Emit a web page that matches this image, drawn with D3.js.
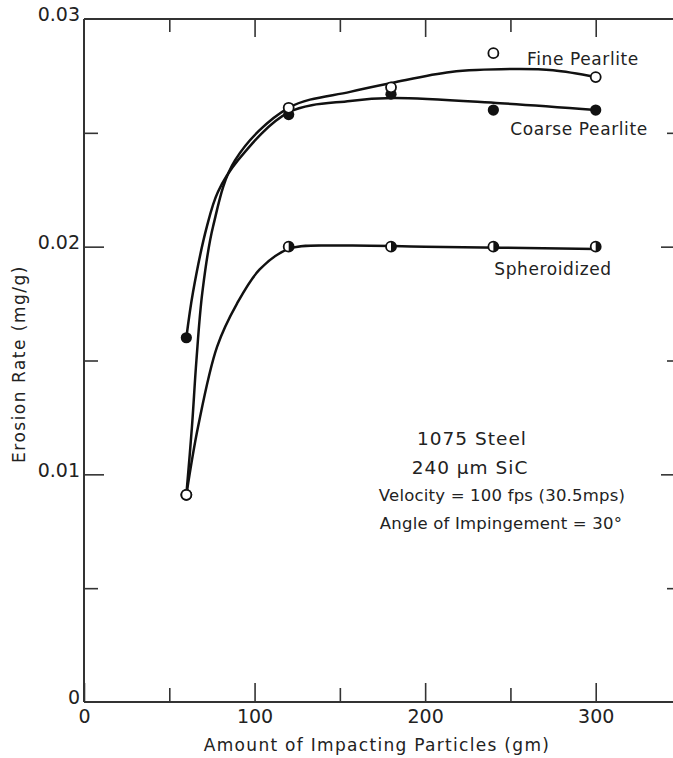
<!DOCTYPE html>
<html><head><meta charset="utf-8">
<script src="https://cdn.jsdelivr.net/npm/d3@7"></script>
<style>
body{margin:0;background:#fff;}
text{font-family:"DejaVu Sans",sans-serif;fill:#222;}
</style></head>
<body><svg id="c" width="673" height="758"></svg>
<script>
// ---- data ----
const xMajorTicks = [0, 100, 200, 300];
const xMinorTicks = [50, 150, 250];
const yMajorTicks = [0, 0.01, 0.02, 0.03];
const yMinorTicks = [0.005, 0.015, 0.025];
const yTickLabels = ["0", "0.01", "0.02", "0.03"];

const finePoints = [[60, 0.0091], [120, 0.0261], [180, 0.0270], [240, 0.0285], [300, 0.02745]];
const coarsePoints = [[60, 0.0160], [120, 0.0258], [180, 0.0267], [240, 0.0260], [300, 0.0260]];
const sphPoints = [[60, 0.0091], [120, 0.0200], [180, 0.0200], [240, 0.0200], [300, 0.0200]];

const fineCurve = [[60, 0.0091], [63.3, 0.0121], [65.9, 0.0150], [69.4, 0.0180], [75.7, 0.0209], [88.6, 0.0238], [120, 0.0261], [156, 0.0268], [181, 0.0272], [215, 0.02767], [250, 0.0278], [275, 0.02775], [300, 0.02745]];
const coarseCurve = [[60, 0.0160], [63.9, 0.0180], [72.1, 0.0209], [78.5, 0.0224], [90.3, 0.0238], [120, 0.0259], [156, 0.0264], [181, 0.02653], [244, 0.0263], [300, 0.0260]];
const sphCurve = [[60, 0.0091], [66.9, 0.0121], [78, 0.0156], [89.7, 0.0175], [103, 0.0190], [120, 0.0199], [150, 0.02005], [200, 0.0200], [300, 0.0199]];

const seriesLabels = ["Fine Pearlite", "Coarse Pearlite", "Spheroidized"];
const notes = ["1075 Steel", "240 \u03bcm SiC", "Velocity = 100 fps (30.5mps)", "Angle of Impingement = 30\u00b0"];
const xTitle = "Amount of Impacting Particles (gm)";
const yTitle = "Erosion Rate (mg/g)";

// ---- layout ----
const svg = d3.select("#c");
const x = d3.scaleLinear().domain([0, 350]).range([84, 681]);
const y = d3.scaleLinear().domain([0, 0.03]).range([702, 19]);
const axisColor = "#333";

const frame = svg.append("g").attr("stroke", axisColor).attr("stroke-width", 2).attr("fill", "none");
frame.append("line").attr("x1", x(0)).attr("x2", x(350)).attr("y1", y(0)).attr("y2", y(0));
frame.append("line").attr("x1", x(0)).attr("x2", x(350)).attr("y1", y(0.03)).attr("y2", y(0.03));
frame.append("line").attr("x1", x(0)).attr("x2", x(0)).attr("y1", y(0)).attr("y2", y(0.03));
frame.append("line").attr("x1", x(350)).attr("x2", x(350)).attr("y1", y(0)).attr("y2", y(0.03));

function styleAxis(g) {
  g.select(".domain").remove();
  g.selectAll(".tick line").attr("stroke", axisColor).attr("stroke-width", 1.6);
  g.selectAll(".tick text").style("font-family", "'DejaVu Sans',sans-serif").attr("fill", "#222");
}

// bottom axis (inward ticks)
svg.append("g").attr("transform", `translate(0,${y(0)})`)
  .call(d3.axisBottom(x).tickValues(xMajorTicks).tickSizeInner(-19).tickSizeOuter(0).tickPadding(8).tickFormat(d3.format("d")))
  .call(styleAxis)
  .call(g => g.selectAll(".tick text").attr("font-size", 19));
svg.append("g").attr("transform", `translate(0,${y(0)})`)
  .call(d3.axisBottom(x).tickValues(xMinorTicks).tickSizeInner(-14).tickSizeOuter(0).tickFormat(""))
  .call(styleAxis);
// top axis
svg.append("g").attr("transform", `translate(0,${y(0.03)})`)
  .call(d3.axisTop(x).tickValues(xMajorTicks.slice(1)).tickSizeInner(-18).tickSizeOuter(0).tickFormat(""))
  .call(styleAxis);
svg.append("g").attr("transform", `translate(0,${y(0.03)})`)
  .call(d3.axisTop(x).tickValues(xMinorTicks).tickSizeInner(-13).tickSizeOuter(0).tickFormat(""))
  .call(styleAxis);
// left axis
svg.append("g").attr("transform", `translate(${x(0)},0)`)
  .call(d3.axisLeft(y).tickValues(yMajorTicks.slice(1, 3)).tickSizeInner(-20).tickSizeOuter(0).tickFormat(""))
  .call(styleAxis);
svg.append("g").attr("transform", `translate(${x(0)},0)`)
  .call(d3.axisLeft(y).tickValues(yMinorTicks).tickSizeInner(-14).tickSizeOuter(0).tickFormat(""))
  .call(styleAxis);
svg.append("g").attr("transform", `translate(${x(0)},0)`)
  .call(d3.axisLeft(y).tickValues(yMajorTicks).tickSize(0).tickPadding(4).tickFormat((d, i) => yTickLabels[i]))
  .call(styleAxis)
  .call(g => g.selectAll(".tick text").attr("font-size", 19).attr("dy", "0.1em"));
// right axis
svg.append("g").attr("transform", `translate(${x(350)},0)`)
  .call(d3.axisRight(y).tickValues(yMajorTicks.slice(1, 3)).tickSizeInner(-20).tickSizeOuter(0).tickFormat(""))
  .call(styleAxis);
svg.append("g").attr("transform", `translate(${x(350)},0)`)
  .call(d3.axisRight(y).tickValues(yMinorTicks).tickSizeInner(-14).tickSizeOuter(0).tickFormat(""))
  .call(styleAxis);

// titles
svg.append("text").attr("x", 377).attr("y", 751).attr("text-anchor", "middle")
  .attr("font-size", 17).attr("letter-spacing", 1.3).text(xTitle);
svg.append("text").attr("transform", `translate(25,364) rotate(-90)`).attr("text-anchor", "middle")
  .attr("font-size", 17).attr("letter-spacing", 1.5).text(yTitle);

// curves
const line = d3.line().x(d => x(d[0])).y(d => y(d[1])).curve(d3.curveCatmullRom.alpha(0.5));
[fineCurve, coarseCurve, sphCurve].forEach(c => {
  svg.append("path").datum(c).attr("d", line).attr("fill", "none")
    .attr("stroke", "#111").attr("stroke-width", 2.5);
});

// markers
const r = 5;
svg.append("g").selectAll("circle").data(coarsePoints).join("circle")
  .attr("cx", d => x(d[0])).attr("cy", d => y(d[1])).attr("r", r + 0.6).attr("fill", "#111");
svg.append("g").selectAll("circle").data(finePoints).join("circle")
  .attr("cx", d => x(d[0])).attr("cy", d => y(d[1])).attr("r", r).attr("fill", "#fff")
  .attr("stroke", "#111").attr("stroke-width", 1.8);
const sph = svg.append("g").selectAll("g").data(sphPoints).join("g")
  .attr("transform", d => `translate(${x(d[0])},${y(d[1])})`);
sph.append("circle").attr("r", r).attr("fill", "#fff").attr("stroke", "#111").attr("stroke-width", 1.8);
sph.filter((d, i) => i > 0).append("path")
  .attr("d", d3.arc()({innerRadius: 0, outerRadius: r, startAngle: 0, endAngle: Math.PI}))
  .attr("fill", "#111");

// series labels
const labelPos = [[583, 65], [579, 135], [553, 275]];
seriesLabels.forEach((t, i) => {
  svg.append("text").attr("x", labelPos[i][0]).attr("y", labelPos[i][1]).attr("text-anchor", "middle")
    .attr("font-size", 17).attr("letter-spacing", 0.6).text(t);
});

// notes
const noteY = [445, 474, 501, 529];
const noteX = [472, 470, 502, 501];
notes.forEach((t, i) => {
  svg.append("text").attr("x", noteX[i]).attr("y", noteY[i]).attr("text-anchor", "middle")
    .attr("font-size", i < 2 ? 18.5 : 16.5).attr("letter-spacing", i < 2 ? 1 : 0.2).text(t);
});
</script></body></html>
